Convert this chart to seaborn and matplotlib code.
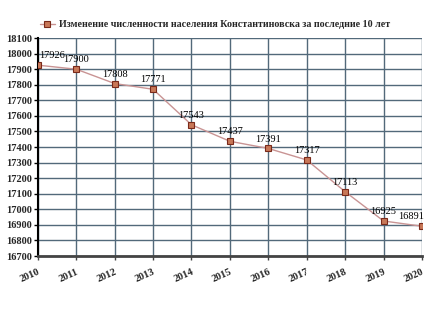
import matplotlib
matplotlib.use("Agg")
import matplotlib.pyplot as plt
import seaborn as sns
import pandas as pd

years = [2010, 2011, 2012, 2013, 2014, 2015, 2016, 2017, 2018, 2019, 2020]
population = [17926, 17900, 17808, 17771, 17543, 17437, 17391, 17317, 17113, 16925, 16891]
y_ticks = list(range(16700, 18101, 100))
series_label = "Изменение численности населения Константиновска за последние 10 лет"

sns.set_theme(style="white")
plt.rcParams['font.family'] = ['Liberation Serif', 'DejaVu Serif']

df = pd.DataFrame({"year": years, "population": population})

fig = plt.figure(figsize=(4.35, 3.2), dpi=100)
ax = fig.add_axes([0.087, 0.2, 0.883, 0.681])

sns.lineplot(data=df, x="year", y="population", ax=ax, color="#c99494", linewidth=1.0,
             marker="s", markersize=5, markerfacecolor="#c87858", markeredgecolor="#7a2a1a",
             markeredgewidth=0.8, label=series_label, zorder=3)

ax.set_xlim(2010, 2020)
ax.set_ylim(16700, 18100)
ax.set_xticks(years)
ax.set_yticks(y_ticks)
ax.set_xticklabels([str(y) for y in years], rotation=24, ha="right", rotation_mode="anchor",
                   fontsize=7.5, fontweight="bold")
ax.set_yticklabels([str(v) for v in y_ticks], fontsize=7.5, fontweight="bold")
ax.set_xlabel("")
ax.set_ylabel("")
ax.grid(True, color="#52697a", linewidth=1.0)
ax.set_axisbelow(True)

for s in ["top", "right"]:
    ax.spines[s].set_visible(False)
ax.spines["left"].set_color("black")
ax.spines["left"].set_linewidth(1.5)
ax.spines["bottom"].set_color("#444444")
ax.spines["bottom"].set_linewidth(2.0)
ax.tick_params(axis="y", length=3, width=1, color="black", pad=1, left=True)
ax.tick_params(axis="x", length=3, width=1, color="#444444", pad=5, bottom=True)

for i, (x, y) in enumerate(zip(years, population)):
    dx = 10 if i == 0 else (-8 if i == len(years) - 1 else 0)
    ax.annotate(str(y), (x, y), xytext=(dx, 3.5), textcoords="offset points",
                ha="center", va="bottom", fontsize=7.5, color="black", zorder=4)

leg = ax.legend(loc="lower left", frameon=False,
                prop={"size": 7.2, "weight": "bold"}, handlelength=1.5, handletextpad=0.4,
                borderaxespad=0, borderpad=0)
leg.set_bbox_to_anchor((0.005, 1.04), transform=ax.transAxes)

fig.savefig("out.png", dpi=100, facecolor="white")
